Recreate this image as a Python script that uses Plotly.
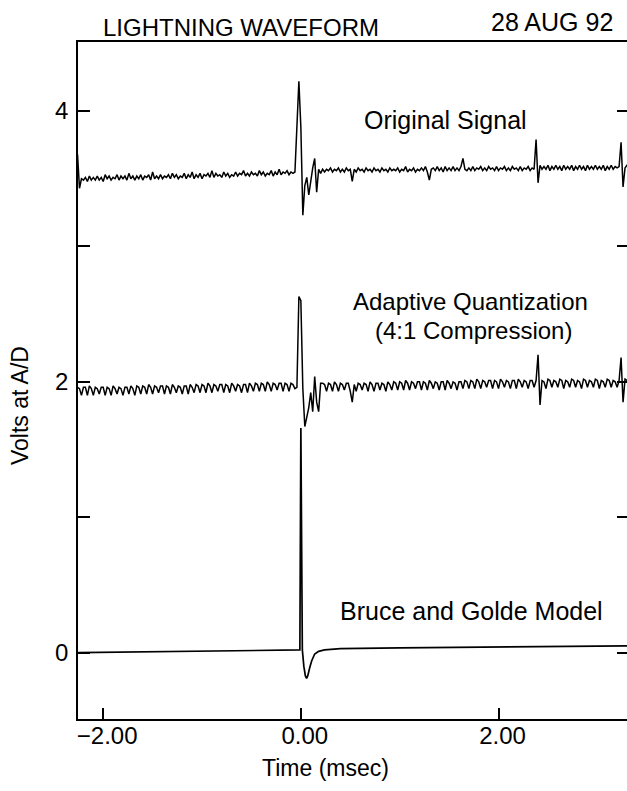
import numpy as np
import plotly.graph_objects as go

# ---------------- data ----------------
t_start = -2.26
t_step = 0.02        # ms between samples

original_signal = [
    3.68, 3.43, 3.50, 3.49, 3.51, 3.48, 3.52, 3.49, 3.51, 3.49,
    3.52, 3.49, 3.51, 3.48, 3.53, 3.50, 3.52, 3.49, 3.51, 3.50,
    3.53, 3.49, 3.52, 3.50, 3.52, 3.49, 3.54, 3.50, 3.52, 3.49,
    3.52, 3.50, 3.53, 3.49, 3.52, 3.51, 3.53, 3.49, 3.55, 3.50,
    3.52, 3.50, 3.53, 3.50, 3.52, 3.51, 3.53, 3.50, 3.54, 3.51,
    3.53, 3.50, 3.52, 3.51, 3.54, 3.50, 3.53, 3.51, 3.55, 3.50,
    3.53, 3.51, 3.54, 3.50, 3.53, 3.52, 3.54, 3.51, 3.56, 3.51,
    3.54, 3.52, 3.53, 3.51, 3.55, 3.52, 3.54, 3.51, 3.53, 3.52,
    3.55, 3.52, 3.54, 3.53, 3.56, 3.52, 3.54, 3.52, 3.55, 3.53,
    3.54, 3.52, 3.56, 3.53, 3.55, 3.52, 3.54, 3.53, 3.56, 3.52,
    3.55, 3.53, 3.57, 3.53, 3.55, 3.54, 3.56, 3.53, 3.55, 3.54,
    3.55,
    3.90, 4.22, 3.88, 3.23, 3.45, 3.51, 3.38, 3.50, 3.58, 3.65, 3.40, 3.57, 3.54,
    3.57, 3.55, 3.57, 3.56, 3.58, 3.55, 3.57, 3.56, 3.58, 3.55,
    3.57, 3.55, 3.58, 3.56, 3.57, 3.48, 3.57, 3.55, 3.58, 3.56,
    3.57, 3.55, 3.58, 3.56, 3.57, 3.55, 3.58, 3.56, 3.57, 3.55,
    3.58, 3.56, 3.57, 3.55, 3.58, 3.56, 3.57, 3.56, 3.58, 3.55,
    3.57, 3.56, 3.59, 3.55, 3.57, 3.56, 3.58, 3.55, 3.57, 3.56,
    3.58, 3.56, 3.59, 3.55, 3.49, 3.57, 3.58, 3.56, 3.59, 3.56,
    3.58, 3.55, 3.59, 3.56, 3.58, 3.56, 3.59, 3.56, 3.58, 3.56,
    3.59, 3.65, 3.57, 3.56, 3.58, 3.56, 3.59, 3.56, 3.58, 3.57,
    3.59, 3.56, 3.58, 3.56, 3.59, 3.57, 3.58, 3.56, 3.59, 3.56,
    3.58, 3.57, 3.59, 3.56, 3.58, 3.56, 3.59, 3.57, 3.58, 3.56,
    3.59, 3.56, 3.58, 3.57, 3.59, 3.56, 3.58, 3.57, 3.79, 3.47,
    3.60, 3.57, 3.59, 3.57, 3.60, 3.56, 3.59, 3.57, 3.60, 3.57,
    3.59, 3.56, 3.60, 3.57, 3.59, 3.57, 3.60, 3.56, 3.59, 3.57,
    3.60, 3.57, 3.59, 3.56, 3.60, 3.57, 3.59, 3.57, 3.60, 3.57,
    3.59, 3.57, 3.60, 3.56, 3.59, 3.57, 3.60, 3.57, 3.59, 3.58,
    3.59, 3.77, 3.44, 3.58, 3.60, 3.62, 3.66,
]

adaptive_quant = [
    1.96, 1.95, 1.90, 1.96, 1.96, 1.90, 1.97, 1.95, 1.90, 1.96,
    1.95, 1.91, 1.96, 1.96, 1.90, 1.96, 1.95, 1.90, 1.97, 1.95,
    1.91, 1.96, 1.95, 1.90, 1.96, 1.96, 1.91, 1.97, 1.95, 1.90,
    1.97, 1.96, 1.91, 1.97, 1.96, 1.91, 1.98, 1.96, 1.91, 1.97,
    1.96, 1.92, 1.97, 1.97, 1.91, 1.97, 1.96, 1.91, 1.98, 1.96,
    1.92, 1.97, 1.96, 1.91, 1.97, 1.97, 1.91, 1.98, 1.96, 1.92,
    1.98, 1.97, 1.92, 1.98, 1.97, 1.92, 1.99, 1.97, 1.92, 1.98,
    1.97, 1.93, 1.98, 1.98, 1.92, 1.98, 1.97, 1.92, 1.99, 1.97,
    1.93, 1.98, 1.97, 1.92, 1.98, 1.98, 1.92, 1.99, 1.97, 1.93,
    1.99, 1.98, 1.93, 1.99, 1.98, 1.93, 2.00, 1.98, 1.93, 1.99,
    1.98, 1.94, 1.99, 1.99, 1.93, 1.99, 1.98, 1.93, 1.99, 1.98,
    1.95,
    1.96, 2.63, 2.60, 1.95, 1.67, 1.74, 1.81, 1.92, 1.78, 2.04, 1.85, 1.78, 1.99,
    1.99, 1.98, 1.93, 1.99, 1.98, 1.93, 2.00, 1.98, 1.93, 1.99,
    1.98, 1.94, 1.99, 1.99, 1.93, 1.85, 1.98, 1.93, 1.99, 1.98,
    1.94, 1.99, 1.98, 1.93, 2.00, 1.98, 1.93, 1.99, 1.99, 1.94,
    1.99, 1.98, 1.93, 2.00, 1.98, 1.94,
    2.00, 1.99, 1.94, 2.00, 1.99, 1.94, 2.01, 1.99, 1.94, 2.00,
    1.99, 1.95, 2.00, 2.00, 1.94, 2.00, 1.99, 1.94, 2.01, 1.99,
    1.95, 2.00, 1.99, 1.94, 2.00, 2.00, 1.94, 2.01, 1.99, 1.95,
    2.00, 1.99, 1.94, 2.00, 2.00, 1.95,
    2.01, 2.00, 1.95, 2.01, 2.00, 1.95, 2.02, 2.00, 1.95, 2.01,
    2.00, 1.96, 2.01, 2.01, 1.95, 2.01, 2.00, 1.95, 2.02, 2.00,
    1.96, 2.01, 2.00, 1.95, 2.01, 2.01, 1.95, 2.02, 2.00, 1.96,
    2.01, 2.00, 1.95, 2.01, 2.01, 1.96,
    2.01, 2.20, 1.83, 2.01, 2.00, 1.95, 2.02, 2.01, 1.96, 2.01,
    2.00, 1.96, 2.02, 2.01, 1.95, 2.01, 2.00, 1.96, 2.02, 2.01,
    1.96, 2.01, 2.00, 1.95, 2.02, 2.01, 1.96, 2.01, 2.00, 1.96,
    2.02, 2.01, 1.95, 2.01, 2.00, 1.96,
    2.02, 2.01, 1.96, 2.01, 2.00, 1.96, 2.01, 2.18, 1.85, 2.02,
    2.01, 1.96, 2.03,
]

bruce_t = [-2.26, -0.01, 0.0, 0.008, 0.015, 0.03, 0.045, 0.058, 0.07,
           0.09, 0.11, 0.14, 0.18, 0.24, 0.40, 1.00, 2.00, 3.35]
bruce_v = [0.00, 0.02, 1.66, 0.60, 0.02, -0.10, -0.17, -0.19, -0.17,
           -0.11, -0.06, -0.01, 0.01, 0.02, 0.03, 0.035, 0.04, 0.05]

x_tick_vals = [-2, 0, 2]
x_tick_text = ["\u22122.00", "0.00", "2.00"]
y_tick_vals = [0, 1, 2, 3, 4]
y_tick_text = ["0", "", "2", "", "4"]

t_orig = np.round(t_start + t_step * np.arange(len(original_signal)), 3)
t_aq = np.round(t_start + t_step * np.arange(len(adaptive_quant)), 3)

# ---------------- layout geometry ----------------
W, H = 627, 791
L, R, T, B = 78, 0, 42, 72
PW, PH = W - L - R, H - T - B
FONT = "Liberation Sans, Arial, Helvetica, sans-serif"
Y_RANGE = [-0.49, 4.51]


def px(xp):
    return (xp - L) / PW


def py(yp):
    return (H - B - yp) / PH


line_style = dict(color="black", width=1.5)

fig = go.Figure()
fig.add_trace(go.Scatter(x=t_orig, y=original_signal, mode="lines",
                         line=line_style, showlegend=False))
fig.add_trace(go.Scatter(x=t_aq, y=adaptive_quant, mode="lines",
                         line=line_style, showlegend=False))
fig.add_trace(go.Scatter(x=bruce_t, y=bruce_v, mode="lines",
                         line=dict(color="black", width=1.7), showlegend=False))
# invisible trace to activate the right-hand tick axis
fig.add_trace(go.Scatter(x=[None], y=[None], yaxis="y2", showlegend=False,
                         hoverinfo="skip"))

ann = []


def add_text(text, xpix, ypix, xanchor="center", size=24, angle=0):
    ann.append(dict(text=text, x=px(xpix), y=py(ypix), xref="paper", yref="paper",
                    xanchor=xanchor, yanchor="middle", showarrow=False,
                    textangle=angle, font=dict(family=FONT, size=size, color="black")))


add_text("LIGHTNING WAVEFORM", 101, 27, xanchor="left", size=24)
add_text("28 AUG 92", 615, 22, xanchor="right", size=25)
add_text("Original Signal", 445, 120, size=25)
add_text("Adaptive Quantization", 470, 301)
add_text("(4:1 Compression)", 473, 330)
add_text("Bruce and Golde Model", 471, 611, size=25)
add_text("Time (msec)", 325, 768, size=23)
add_text("Volts at A/D", 20, 406, size=23, angle=-90)

fig.update_layout(
    width=W, height=H,
    margin=dict(l=L, r=R, t=T, b=B, pad=0),
    paper_bgcolor="white", plot_bgcolor="white",
    font=dict(family=FONT, size=24, color="black"),
    annotations=ann,
    xaxis=dict(range=[-2.255, 3.30], showgrid=False, zeroline=False,
               showline=True, linecolor="black", linewidth=1.6, mirror=True,
               ticks="inside", ticklen=11, tickwidth=1.5, tickcolor="black",
               tickvals=x_tick_vals, ticktext=x_tick_text,
               tickfont=dict(family=FONT, size=24, color="black"),
               ticklabelstandoff=-6, ticklabelshift=4),
    yaxis=dict(range=Y_RANGE, showgrid=False, zeroline=False,
               showline=True, linecolor="black", linewidth=1.6, mirror=False,
               ticks="inside", ticklen=12, tickwidth=1.5, tickcolor="black",
               tickvals=y_tick_vals, ticktext=y_tick_text,
               tickfont=dict(family=FONT, size=24, color="black"),
               ticklabelstandoff=3),
    yaxis2=dict(range=Y_RANGE, overlaying="y", side="right", anchor="x",
                showgrid=False, zeroline=False, showline=False,
                ticks="inside", ticklen=10, tickwidth=1.5, tickcolor="black",
                tickvals=y_tick_vals, showticklabels=False),
)

fig.write_html(
    "out.html",
    config={"displayModeBar": False},
    post_script="document.body.style.margin='0px';document.body.style.padding='0px';",
)
